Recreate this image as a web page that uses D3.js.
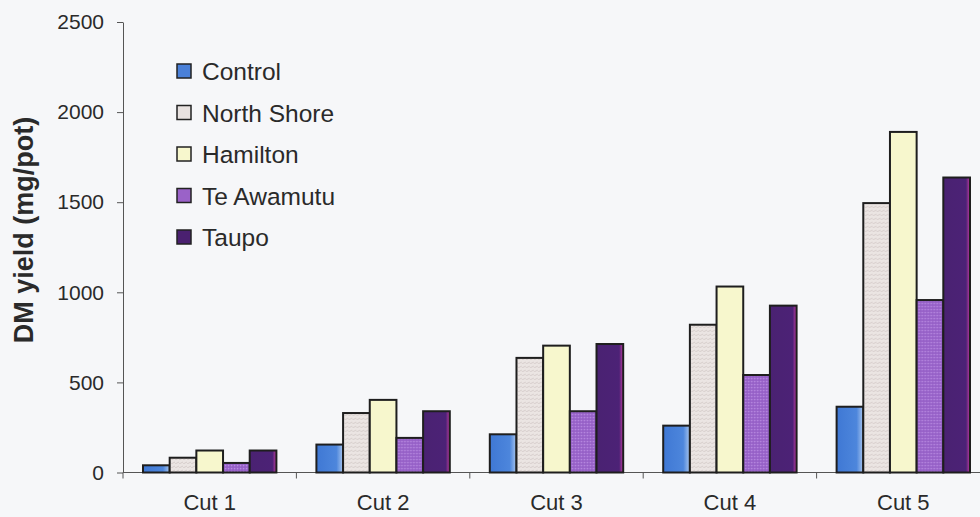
<!DOCTYPE html>
<html>
<head>
<meta charset="utf-8">
<script src="https://cdn.jsdelivr.net/npm/d3@7"></script>
<style>
  html, body { margin: 0; padding: 0; background: #f6f7f9; }
  svg { display: block; font-family: "Liberation Sans", Arial, sans-serif; }
</style>
</head>
<body>
<svg id="chart" width="980" height="517"></svg>
<script>
// Dry-matter yield per harvest cut for each soil source
const cuts = ["Cut 1", "Cut 2", "Cut 3", "Cut 4", "Cut 5"];
const seriesNames = ["Control", "North Shore", "Hamilton", "Te Awamutu", "Taupo"];
const control    = [40, 155, 212, 260, 365];
const northShore = [82, 330, 636, 820, 1495];
const hamilton   = [122, 403, 704, 1032, 1890];
const teAwamutu  = [53, 192, 340, 541, 957];
const taupo      = [122, 340, 713, 926, 1637];
const yTicks = [0, 500, 1000, 1500, 2000, 2500];

const seriesValues = [control, northShore, hamilton, teAwamutu, taupo];

const svg = d3.select("#chart");
const defs = svg.append("defs");

// Fills: gradient for Control, fine hatch for North Shore, stipple for Te Awamutu
const gBlue = defs.append("linearGradient").attr("id", "fControl").attr("x1", 0).attr("x2", 1);
gBlue.append("stop").attr("offset", "0%").attr("stop-color", "#3f78d4");
gBlue.append("stop").attr("offset", "75%").attr("stop-color", "#4d86dc");
gBlue.append("stop").attr("offset", "100%").attr("stop-color", "#a9c6ee");

const pNS = defs.append("pattern").attr("id", "fNS").attr("patternUnits", "userSpaceOnUse")
  .attr("width", 4).attr("height", 4);
pNS.append("rect").attr("width", 4).attr("height", 4).attr("fill", "#ebe5e3");
pNS.append("path").attr("d", "M0,4 L4,2").attr("stroke", "#cfc6c4").attr("stroke-width", 0.8);

const pTA = defs.append("pattern").attr("id", "fTA").attr("patternUnits", "userSpaceOnUse")
  .attr("width", 3).attr("height", 3);
pTA.append("rect").attr("width", 3).attr("height", 3).attr("fill", "#9c66cc");
pTA.append("rect").attr("width", 1.2).attr("height", 1.2).attr("fill", "#b88ce0");
pTA.append("rect").attr("x", 1.5).attr("y", 1.5).attr("width", 1).attr("height", 1).attr("fill", "#8350b8");

const gTaupo = defs.append("linearGradient").attr("id", "fTaupo").attr("x1", 0).attr("x2", 1);
gTaupo.append("stop").attr("offset", "0%").attr("stop-color", "#4a2272");
gTaupo.append("stop").attr("offset", "85%").attr("stop-color", "#4c2276");
gTaupo.append("stop").attr("offset", "100%").attr("stop-color", "#c23ca2");

const fills = ["url(#fControl)", "url(#fNS)", "#f7f7cd", "url(#fTA)", "url(#fTaupo)"];
const legendFills = ["#4a80d8", "#e8e2e0", "#f7f7cd", "#9a62c8", "#4a2070"];

const plotLeft = 123, plotBottom = 472.5, plotTop = 22, plotRight = 990;
const x0 = d3.scaleBand().domain(cuts).range([plotLeft, plotRight]).paddingInner(0).paddingOuter(0);
const x1 = d3.scaleBand().domain(seriesNames).range([0, x0.bandwidth()]).paddingInner(0).paddingOuter(0.75);
const y = d3.scaleLinear().domain([0, 2500]).range([plotBottom, plotTop]);

// Y axis
const yAxis = svg.append("g").attr("transform", `translate(${plotLeft},0)`)
  .call(d3.axisLeft(y).tickValues(yTicks).tickFormat(d3.format("d"))
    .tickSize(6).tickSizeOuter(0).tickPadding(13));
yAxis.select(".domain").attr("stroke", "#555").attr("stroke-width", 1);
yAxis.selectAll(".tick line").attr("stroke", "#555");
yAxis.selectAll(".tick text").attr("font-size", 21).attr("fill", "#2a2a2a")
  .attr("font-family", "Liberation Sans, Arial, sans-serif");

// X axis with ticks at category boundaries
const xAxisG = svg.append("g").attr("transform", `translate(0,${plotBottom})`);
xAxisG.append("line").attr("x1", plotLeft).attr("x2", plotRight).attr("stroke", "#555");
xAxisG.selectAll("line.tk").data(cuts).join("line").attr("class", "tk")
  .attr("x1", d => x0(d)).attr("x2", d => x0(d)).attr("y1", 0).attr("y2", 6).attr("stroke", "#555");
xAxisG.selectAll("text").data(cuts).join("text")
  .attr("x", d => x0(d) + x0.bandwidth() / 2).attr("y", 37)
  .attr("text-anchor", "middle").attr("font-size", 22).attr("fill", "#2a2a2a").text(d => d);

// Bars
const groups = svg.append("g").selectAll("g").data(cuts).join("g")
  .attr("transform", d => `translate(${x0(d)},0)`);
groups.selectAll("rect").data((d, i) => seriesNames.map((s, k) => ({ s, k, v: seriesValues[k][i] })))
  .join("rect")
  .attr("x", d => x1(d.s))
  .attr("width", x1.bandwidth())
  .attr("y", d => y(d.v))
  .attr("height", d => plotBottom - y(d.v))
  .attr("fill", d => fills[d.k])
  .attr("stroke", "#1e1e1e").attr("stroke-width", 2);

// Axis title
svg.append("text")
  .attr("transform", "translate(33,230) rotate(-90)")
  .attr("text-anchor", "middle").attr("font-size", 27).attr("font-weight", "bold").attr("fill", "#2a2a2a")
  .text("DM yield (mg/pot)");

// Legend
const legend = svg.append("g").attr("transform", "translate(177,80)");
const items = legend.selectAll("g").data(seriesNames).join("g")
  .attr("transform", (d, i) => `translate(0,${i * 41.5})`);
items.append("rect").attr("width", 14).attr("height", 14).attr("y", -16)
  .attr("fill", (d, i) => legendFills[i]).attr("stroke", "#222").attr("stroke-width", 1.5);
items.append("text").attr("x", 25).attr("y", 0).attr("font-size", 24.5).attr("fill", "#2a2a2a").text(d => d);
</script>
</body>
</html>
